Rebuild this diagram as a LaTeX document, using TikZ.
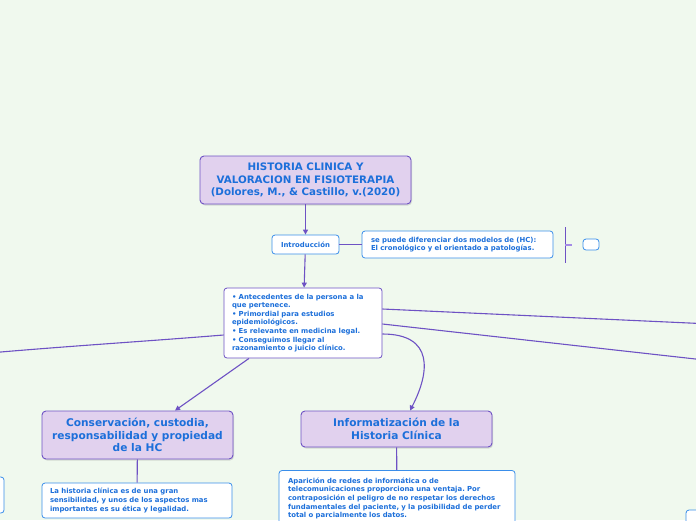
\documentclass[tikz,border=0pt]{standalone}
\usepackage{fontspec}
\setmainfont{DejaVu Sans}
\usetikzlibrary{arrows.meta,shadows}
\usepackage{xcolor}
\definecolor{mapbg}{HTML}{F0F9EE}
\definecolor{mappurple}{HTML}{6E52C4}
\definecolor{maplav}{HTML}{E1D1EE}
\definecolor{mapblue}{HTML}{1C6FDA}
\definecolor{noteblue}{HTML}{3A8EEA}
\definecolor{ticklav}{HTML}{A48BE6}
\frenchspacing

\begin{document}
\begin{tikzpicture}[
  x=1pt, y=-1pt,
  topic/.style={draw=mappurple, fill=maplav, rounded corners=4pt,
                line width=0.9pt, align=center, inner sep=0pt,
                font=\bfseries\fontsize{10.6}{12.5}\selectfont, text=mapblue,
                drop shadow={shadow xshift=1pt, shadow yshift=-1.5pt, opacity=0.25}},
  note/.style={draw=noteblue, fill=white, rounded corners=3pt,
               line width=0.8pt, align=left, inner ysep=0pt, inner xsep=8pt,
               font=\bfseries\fontsize{6.9}{8.6}\selectfont, text=mapblue},
  link/.style={draw=mappurple, line width=1.1pt},
  arr/.style={link, -{Triangle[length=5pt, width=5pt]}}
]
  \useasboundingbox (0,0) rectangle (696,520);
  \fill[mapbg] (0,0) rectangle (696,520);
  \clip (0,0) rectangle (696,520);

  % Central topic
  \node[topic, minimum width=211pt, minimum height=48pt,
        font=\bfseries\fontsize{10.3}{12.5}\selectfont] (title) at (305.5,180)
    {HISTORIA CLINICA Y\\VALORACION EN FISIOTERAPIA\\(Dolores, M., \& Castillo, v.(2020)};

  % Introduccion row
  \node[note, minimum width=67pt, minimum height=19pt, align=center,
        inner xsep=0pt] (intro) at (305.5,244.5) {Introducción};
  \node[note, text width=173pt, inner xsep=9pt, minimum height=27pt]
    (modelos) at (457.5,244.5)
    {se puede diferenciar dos modelos de (HC):\\El cronológico y el orientado a patologías.};
  \node[note, minimum width=16pt, minimum height=11pt, inner xsep=0pt]
    (vacio) at (591,244.5) {};

  % Bullet summary
  \node[note, draw=mappurple, text width=142pt, minimum height=70pt]
    (resumen) at (303,323)
    {• Antecedentes de la persona a la\\que pertenece.\\• Primordial para estudios\\epidemiológicos.\\• Es relevante en medicina legal.\\• Conseguimos llegar al\\razonamiento o juicio clínico.};

  % Second level topics
  \node[topic, minimum width=191pt, minimum height=48pt] (custodia) at (137.5,435)
    {Conservación, custodia,\\responsabilidad y propiedad\\de la HC};
  \node[note, text width=174pt, minimum height=35pt] (etica) at (137,500.5)
    {La historia clínica es de una gran\\sensibilidad, y unos de los aspectos mas\\importantes es su ética y legalidad.};

  \node[topic, minimum width=191pt, minimum height=36pt] (informatica) at (396.5,429)
    {Informatización de la\\Historia Clínica};
  \node[note, text width=218pt, inner xsep=9pt, minimum height=56pt] (datos) at (397,498.5)
    {Aparición de redes de informática o de\\telecomunicaciones proporciona una ventaja. Por\\contraposición el peligro de no respetar los derechos\\fundamentales del paciente, y la posibilidad de perder\\total o parcialmente los datos.};

  % Boxes cut by the page edge
  \node[note, minimum width=100pt, minimum height=36pt] (fueraizq) at (-46,495) {};
  \node[note, minimum width=100pt, minimum height=50pt] (fueradcha) at (736,535) {};
  \coordinate (salidaizq) at (-5,352.5);
  \coordinate (salidadcha1) at (700,323.5);
  \coordinate (salidadcha2) at (700,359.5);

  % Bracket next to the model note
  \coordinate (llave) at (565,245);
  \draw[draw=mappurple, line width=1pt] ([yshift=18pt]llave) -- ([yshift=-18pt]llave);
  \draw[draw=ticklav, line width=1.2pt] (llave) -- ++(7,0);

  % Connectors
  \draw[arr, line width=1.8pt] (title) -- (intro);
  \draw[link] (intro) -- (modelos);
  \draw[arr] (intro) -- (resumen);
  \draw[arr] ([xshift=-54pt]resumen.south) -- ([xshift=37.5pt]custodia.north);
  \draw[arr] ([yshift=-11pt]resumen.east) .. controls (434,334) and (430,372)
    .. ([xshift=13.5pt]informatica.north);
  \draw[link] ([yshift=14pt]resumen.east) -- (salidadcha1);
  \draw[link] ([yshift=-1pt]resumen.east) -- (salidadcha2);
  \draw[link] ([yshift=-12pt]resumen.west) .. controls (150,341) and (70,346) .. (salidaizq);
  \draw[link] (custodia) -- (etica);
  \draw[link] (informatica) -- (datos);
\end{tikzpicture}
\end{document}
